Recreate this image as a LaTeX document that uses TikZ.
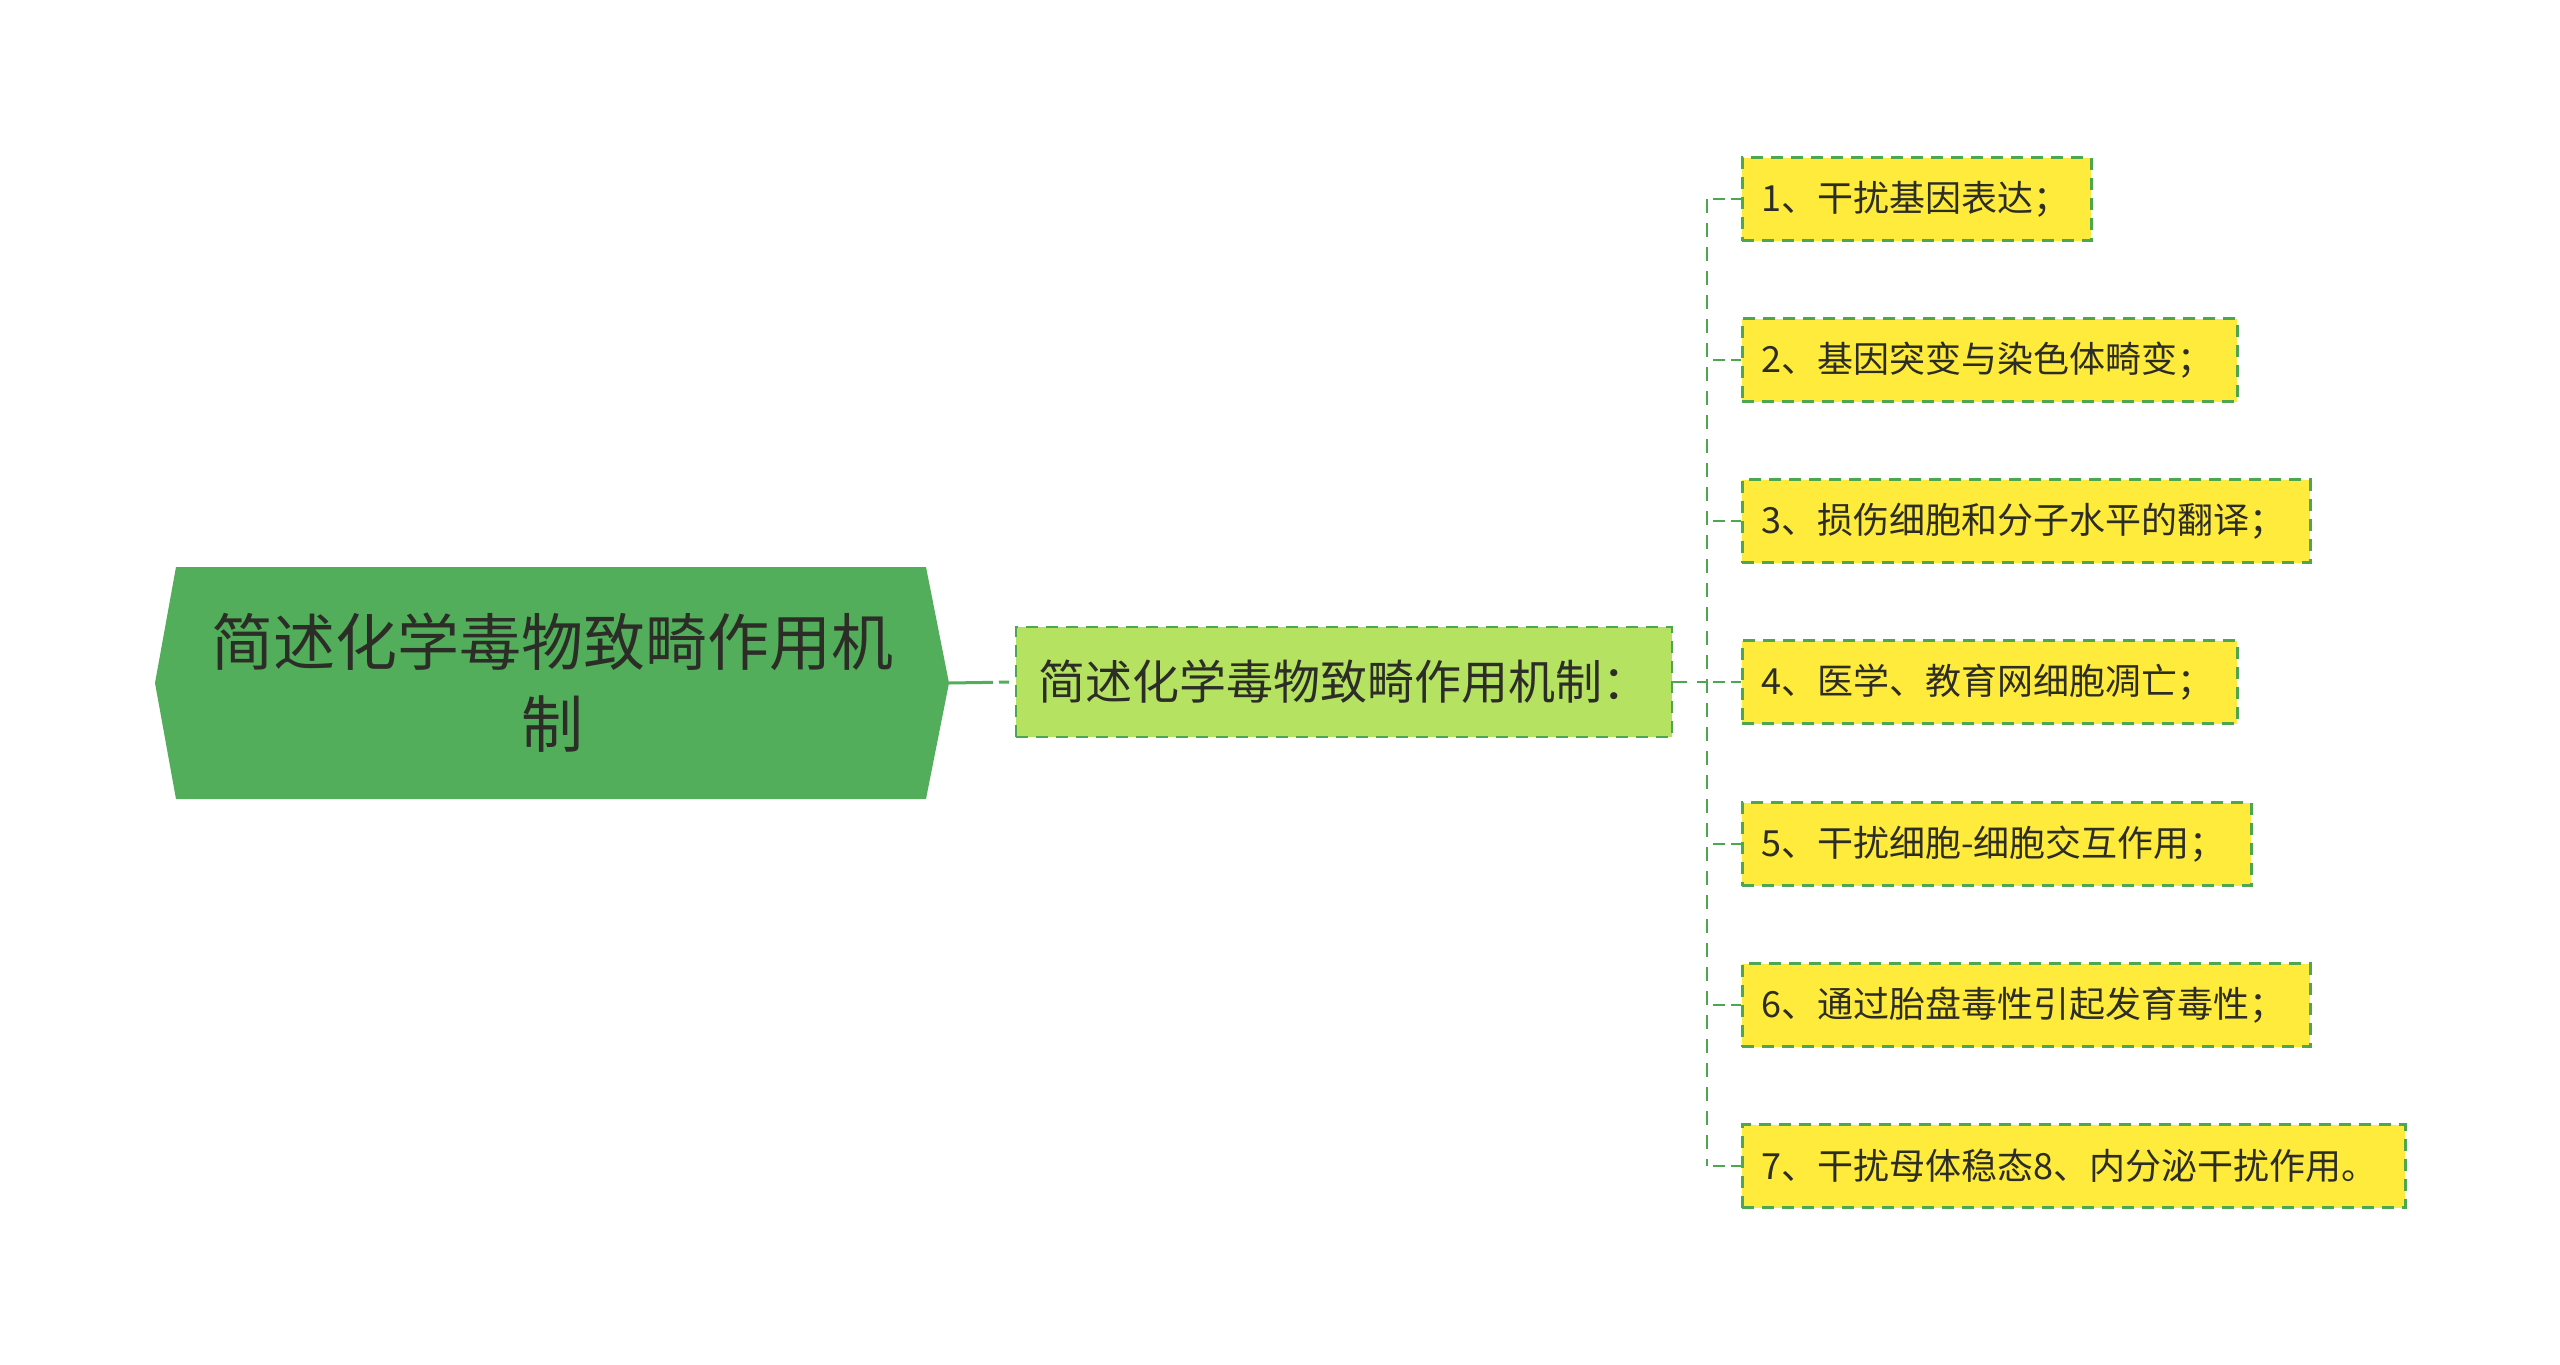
\documentclass[tikz,border=0pt]{standalone}
\usepackage{fontspec}
\setmainfont{Noto Sans CJK SC}
\definecolor{rootgreen}{RGB}{82,174,90}
\definecolor{midfill}{RGB}{181,227,97}
\definecolor{leaffill}{RGB}{255,235,59}
\definecolor{edgegreen}{RGB}{76,167,80}
\definecolor{textdark}{RGB}{45,45,40}
\begin{document}
\begin{tikzpicture}[x=0.5pt,y=-0.5pt,
  conn/.style={draw=edgegreen,line width=1.3pt,dash pattern=on 7pt off 5pt},
  midbox/.style={draw=edgegreen,fill=midfill,line width=1.4pt,dash pattern=on 6pt off 4pt,
    minimum width=328pt,minimum height=55pt,inner sep=0pt,text=textdark,
    font=\fontsize{23.5}{28}\selectfont},
  leafbox/.style={draw=edgegreen,fill=leaffill,line width=1.4pt,dash pattern=on 6pt off 4pt,
    minimum height=41.5pt,inner xsep=9.5pt,inner ysep=0pt,anchor=west,text=textdark,
    font=\fontsize{18}{22}\selectfont},
  roottext/.style={align=center,text=textdark,font=\fontsize{31}{41}\selectfont}]
\useasboundingbox (0,0) rectangle (2560,1365);
\fill[white] (0,0) rectangle (2560,1365);
% root
\coordinate (rR) at (949,683);
\fill[rootgreen] (176,567) -- (926,567) -- (rR) -- (926,799) -- (176,799) -- (155,683) -- cycle;
\node[roottext] (root) at (552,683) {简述化学毒物致畸作用机\\制};
% middle
\node[midbox] (mid) at (1344,682) {简述化学毒物致畸作用机制：};
% leaves
\node[leafbox,minimum width=174.5pt] (l1) at (1741,199) {\makebox[155.5pt][l]{1、干扰基因表达；}};
\node[leafbox,minimum width=247.5pt] (l2) at (1741,360) {\makebox[228.5pt][l]{2、基因突变与染色体畸变；}};
\node[leafbox,minimum width=284pt] (l3) at (1741,521) {\makebox[265pt][l]{3、损伤细胞和分子水平的翻译；}};
\node[leafbox,minimum width=247.5pt] (l4) at (1741,682) {\makebox[228.5pt][l]{4、医学、教育网细胞凋亡；}};
\node[leafbox,minimum width=254.5pt] (l5) at (1741,844) {\makebox[235.5pt][l]{5、干扰细胞-细胞交互作用；}};
\node[leafbox,minimum width=284pt] (l6) at (1741,1005) {\makebox[265pt][l]{6、通过胎盘毒性引起发育毒性；}};
\node[leafbox,minimum width=331.5pt] (l7) at (1741,1166) {\makebox[312.5pt][l]{7、干扰母体稳态8、内分泌干扰作用。}};
% connectors
\coordinate (tx) at (1707,682);
\draw[draw=rootgreen,line width=1.5pt,dash pattern=on 22pt off 3pt on 5pt off 3pt] (rR) -- (mid.west);
\draw[conn] (mid.east) -- (tx);
\draw[conn] (l1.west -| tx) -- (l7.west -| tx);
\foreach \n in {l1,l2,l3,l4,l5,l6,l7}{
  \draw[conn,dash pattern=on 6pt off 3pt] (\n.west -| tx) ++(6,0) -- (\n.west);
}
\end{tikzpicture}
\end{document}
